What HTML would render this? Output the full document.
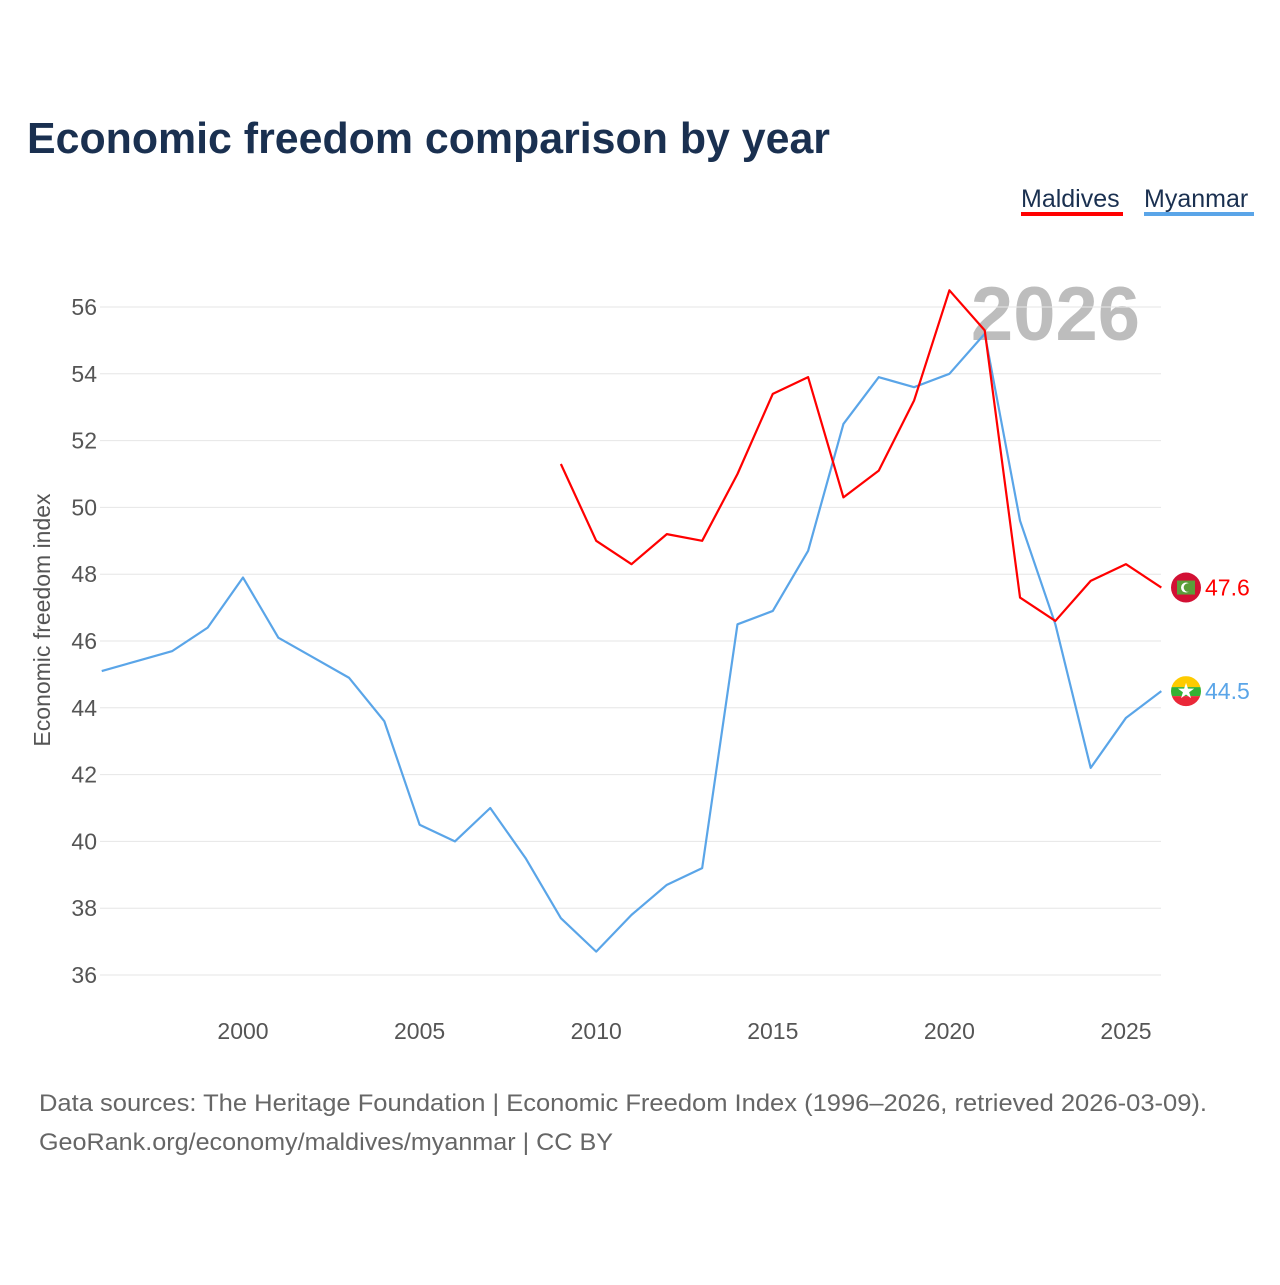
<!DOCTYPE html>
<html><head><meta charset="utf-8"><style>
body{margin:0;background:#fff;font-family:"Liberation Sans",sans-serif}
</style></head><body>
<svg id="c" width="1280" height="1280" xmlns="http://www.w3.org/2000/svg">
<text x="27" y="153" font-size="44" font-weight="bold" fill="#1a3050" textLength="803" lengthAdjust="spacingAndGlyphs">Economic freedom comparison by year</text>
<g>
<text x="1021" y="207" font-size="25" fill="#1a3050">Maldives</text>
<rect x="1021" y="212" width="102" height="4" fill="#ff0000"/>
<text x="1144" y="207" font-size="25" fill="#1a3050">Myanmar</text>
<rect x="1144" y="212" width="110" height="4" fill="#5aa5e8"/>
</g>
<text x="1140" y="340" font-size="76" font-weight="bold" fill="#bdbdbd" text-anchor="end">2026</text>
<g id="grid"></g><g id="yt"></g><g id="xt"></g><g id="lines"></g>
<text transform="translate(50,620) rotate(-90)" font-size="23" fill="#555" text-anchor="middle">Economic freedom index</text>
<text x="39" y="1111" font-size="24" fill="#666" textLength="1168" lengthAdjust="spacingAndGlyphs">Data sources: The Heritage Foundation | Economic Freedom Index (1996–2026, retrieved 2026-03-09).</text>
<text x="39" y="1150" font-size="24" fill="#666" textLength="574" lengthAdjust="spacingAndGlyphs">GeoRank.org/economy/maldives/myanmar | CC BY</text>
</svg>
<script>
const yTicks=[36,38,40,42,44,46,48,50,52,54,56];
const xTicks=[2000,2005,2010,2015,2020,2025];
const myanmarYears=[1996,1997,1998,1999,2000,2001,2002,2003,2004,2005,2006,2007,2008,2009,2010,2011,2012,2013,2014,2015,2016,2017,2018,2019,2020,2021,2022,2023,2024,2025,2026];
const myanmarVals=[45.1,45.4,45.7,46.4,47.9,46.1,45.5,44.9,43.6,40.5,40.0,41.0,39.5,37.7,36.7,37.8,38.7,39.2,46.5,46.9,48.7,52.5,53.9,53.6,54.0,55.2,49.6,46.5,42.2,43.7,44.5];
const maldivesYears=[2009,2010,2011,2012,2013,2014,2015,2016,2017,2018,2019,2020,2021,2022,2023,2024,2025,2026];
const maldivesVals=[51.3,49.0,48.3,49.2,49.0,51.0,53.4,53.9,50.3,51.1,53.2,56.5,55.3,47.3,46.6,47.8,48.3,47.6];
const NS='http://www.w3.org/2000/svg';
const X=y=>243+(y-2000)*35.32, Y=v=>975-(v-36)*33.4;
function mk(t,a,p){const e=document.createElementNS(NS,t);for(const k in a)e.setAttribute(k,a[k]);document.getElementById(p).appendChild(e);return e;}
yTicks.forEach(v=>{
 const l=mk('line',{x1:100,x2:1161,y1:Y(v),y2:Y(v),stroke:'#e6e6e6'},'grid');
 
 
 const t=mk('text',{x:97,y:Y(v)+8,'font-size':23,fill:'#555','text-anchor':'end'},'yt');t.textContent=v;
 
 
});
xTicks.forEach(v=>{
 const t=mk('text',{x:X(v),y:1039,'font-size':23,fill:'#555','text-anchor':'middle'},'xt');t.textContent=v;
 
 
});
function line(ys,vs,c,name){
 const p=mk('polyline',{points:ys.map((y,i)=>X(y)+','+Y(vs[i])).join(' '),fill:'none',stroke:c,'stroke-width':2.2,'stroke-linejoin':'round'},'lines');
 
 
}
line(myanmarYears,myanmarVals,'#5aa5e8','myanmar-line');
line(maldivesYears,maldivesVals,'#ff0000','maldives-line');
function flag(v,name,c,lbl,kind){
 const cx=1186,cy=Y(v);
 const g=mk('g',{},'lines');
 
 
 const id='cl'+kind;
 g.innerHTML=kind=='mv'?
 `<circle cx="${cx}" cy="${cy}" r="15" fill="#d21034"/><rect x="${cx-9}" y="${cy-7}" width="18" height="14" fill="#5b9d3a"/><circle cx="${cx}" cy="${cy}" r="5" fill="#fff"/><circle cx="${cx+2}" cy="${cy}" r="4.3" fill="#5b9d3a"/>`:
 `<clipPath id="${id}"><circle cx="${cx}" cy="${cy}" r="15"/></clipPath><g clip-path="url(#${id})"><rect x="${cx-15}" y="${cy-15}" width="30" height="11" fill="#fecb00"/><rect x="${cx-15}" y="${cy-4}" width="30" height="9" fill="#34b233"/><rect x="${cx-15}" y="${cy+5}" width="30" height="11" fill="#ea2839"/></g><text x="${cx}" y="${cy+7}" font-size="21" fill="#fff" text-anchor="middle">★</text>`;
 const t=mk('text',{x:1205,y:cy+8,'font-size':23,fill:c},'lines');t.textContent=lbl;
 
 
}
flag(maldivesVals[maldivesVals.length-1],'maldives-end-flag','#ff0000',maldivesVals[maldivesVals.length-1].toFixed(1),'mv');
flag(myanmarVals[myanmarVals.length-1],'myanmar-end-flag','#5aa5e8',myanmarVals[myanmarVals.length-1].toFixed(1),'mm');
</script>
</body></html>
